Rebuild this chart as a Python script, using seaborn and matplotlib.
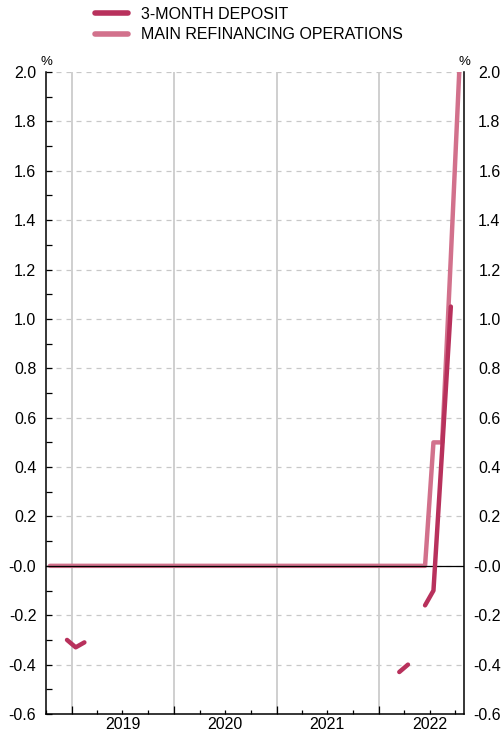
import numpy as np
import pandas as pd
import seaborn as sns
import matplotlib.pyplot as plt
import matplotlib.dates as mdates
from matplotlib.ticker import MultipleLocator, FuncFormatter, NullFormatter
from matplotlib.lines import Line2D

sns.set_style('white')
plt.rcParams['font.family'] = ['Liberation Sans', 'DejaVu Sans']
plt.rcParams['text.color'] = 'black'
plt.rcParams['xtick.color'] = 'black'
plt.rcParams['ytick.color'] = 'black'
plt.rcParams['xtick.labelcolor'] = 'black'
plt.rcParams['ytick.labelcolor'] = 'black'

# monthly observations, Oct 2018 .. Oct 2022
months = pd.period_range('2018-10', '2022-10', freq='M')

nan = np.nan
# 3-month deposit rate (%)
deposit = [
    nan, nan, -0.30,                                                     # 2018 Oct-Dec
    -0.33, -0.31, nan, nan, nan, nan, nan, nan, nan, nan, nan, nan,     # 2019
    nan, nan, nan, nan, nan, nan, nan, nan, nan, nan, nan, nan,         # 2020
    nan, nan, nan, nan, nan, nan, nan, nan, nan, nan, nan, nan,         # 2021
    nan, nan, -0.43, -0.40, nan, -0.16, -0.10, 0.47, 1.05, nan,         # 2022 Jan-Oct
]
# main refinancing operations rate (%)
mro = [
    0.0, 0.0, 0.0,
    0.0, 0.0, 0.0, 0.0, 0.0, 0.0, 0.0, 0.0, 0.0, 0.0, 0.0, 0.0,
    0.0, 0.0, 0.0, 0.0, 0.0, 0.0, 0.0, 0.0, 0.0, 0.0, 0.0, 0.0,
    0.0, 0.0, 0.0, 0.0, 0.0, 0.0, 0.0, 0.0, 0.0, 0.0, 0.0, 0.0,
    0.0, 0.0, 0.0, 0.0, 0.0, 0.0, 0.5, 0.5, 1.25, 2.0,
]
labels = ['3-MONTH DEPOSIT', 'MAIN REFINANCING OPERATIONS']
colors = ['#b8315c', '#d2718c']
yticks = [-0.6, -0.4, -0.2, 0.0, 0.2, 0.4, 0.6, 0.8, 1.0, 1.2, 1.4, 1.6, 1.8, 2.0]
ytick_labels = ['-0.6', '-0.4', '-0.2', '-0.0', '0.2', '0.4', '0.6', '0.8',
                '1.0', '1.2', '1.4', '1.6', '1.8', '2.0']

df = pd.DataFrame({'date': months.to_timestamp() + pd.Timedelta(days=14),
                   'deposit': deposit, 'mro': mro})


def segments(col):
    # split series into runs without gaps so lines break at missing months
    d = df[['date', col]].copy()
    d['seg'] = d[col].isna().cumsum()
    return d.dropna()


FS = 11.5

fig = plt.figure(figsize=(5.02, 7.32), dpi=100)
ax = fig.add_axes([46 / 502, 18 / 732, 418 / 502, 642 / 732])

# grid
for yv in yticks[1:]:
    ax.axhline(yv, color='#c8c8c8', lw=0.9, ls=(0, (4, 4)), zorder=0)
for yr in [2019, 2020, 2021, 2022]:
    ax.axvline(pd.Timestamp(f'{yr}-01-01'), color='#cccccc', lw=1.3, zorder=0)

sns.lineplot(data=segments('mro'), x='date', y='mro', units='seg', estimator=None,
             color=colors[1], lw=3.2, ax=ax, zorder=2)
ax.axhline(0, color='black', lw=0.9, zorder=3)
sns.lineplot(data=segments('deposit'), x='date', y='deposit', units='seg', estimator=None,
             color=colors[0], lw=3.2, ax=ax, zorder=4)

ax.set_xlim(pd.Timestamp('2018-10-01'), pd.Timestamp('2022-11-01'))
ax.set_ylim(-0.6, 2.0)
ax.set_xlabel('')
ax.set_ylabel('')

# left y axis
ax.set_yticks(yticks)
ax.set_yticklabels(ytick_labels)
ax.yaxis.set_minor_locator(MultipleLocator(0.1))
ax.tick_params(axis='y', which='both', direction='in', left=True, right=True,
               labelleft=True, labelright=False, labelsize=FS, pad=7, color='black',
               length=4, width=0.9)

# right y axis: labels right-aligned at the figure edge
ax2 = ax.twinx()
ax2.set_ylim(ax.get_ylim())
ax2.set_yticks(yticks)
ax2.set_yticklabels(ytick_labels, ha='right')
ax2.tick_params(axis='y', which='both', direction='in', right=False, left=False,
                labelright=True, labelsize=FS, pad=26.3)
for s in ax2.spines.values():
    s.set_visible(False)

# x axis: year boundaries, quarter ticks, year label mid-year
ax.xaxis.set_major_locator(mdates.YearLocator())
ax.xaxis.set_major_formatter(NullFormatter())
ax.xaxis.set_minor_locator(mdates.MonthLocator(bymonth=[1, 4, 7, 10]))
ax.xaxis.set_minor_formatter(FuncFormatter(
    lambda v, p: str(mdates.num2date(v).year) if mdates.num2date(v).month == 7 else ''))
ax.tick_params(axis='x', which='major', direction='in', length=6, width=0.9, bottom=True, color='black')
ax.tick_params(axis='x', which='minor', direction='in', length=3, width=0.9, bottom=True,
               labelsize=FS, pad=2, color='black')

for s in ['left', 'right', 'bottom']:
    ax.spines[s].set_visible(True)
    ax.spines[s].set_color('black')
    ax.spines[s].set_linewidth(1.1)
ax.spines['top'].set_visible(False)

ax.text(0, 1.006, '%', transform=ax.transAxes, ha='center', va='bottom', fontsize=9.5)
ax.text(1, 1.006, '%', transform=ax.transAxes, ha='center', va='bottom', fontsize=9.5)

handles = [Line2D([], [], color=c, lw=4) for c in colors]
fig.legend(handles, labels, loc='upper left', bbox_to_anchor=(95 / 502, 1 - 7 / 732),
           frameon=False, fontsize=FS, handlelength=2.05, handletextpad=0.85,
           labelspacing=0.33, borderpad=0, borderaxespad=0)

fig.savefig('out.png', dpi=100)
